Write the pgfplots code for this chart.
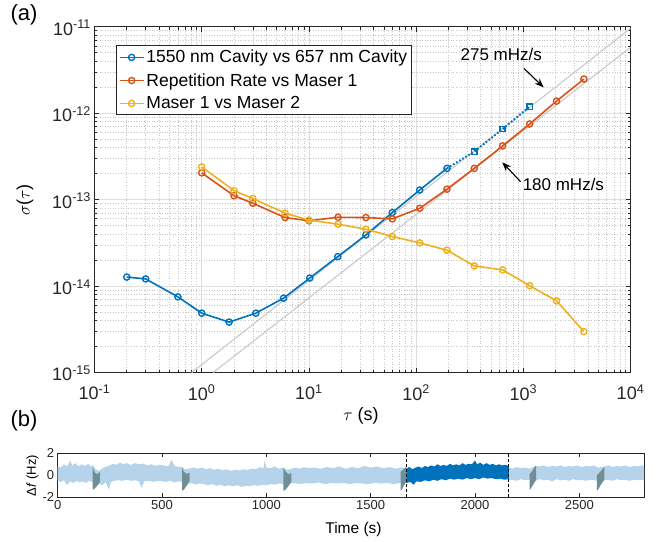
\documentclass[border=0pt]{standalone}
\usepackage{fontspec}
\setmainfont{Liberation Sans}
\usepackage{pgfplots}
\pgfplotsset{compat=1.18}
\usetikzlibrary{arrows.meta}
\definecolor{mblue}{rgb}{0,0.447,0.741}
\definecolor{morange}{rgb}{0.850,0.325,0.098}
\definecolor{myellow}{rgb}{0.929,0.694,0.125}
\definecolor{lblue}{rgb}{0.71,0.83,0.92}
\definecolor{tgray}{rgb}{0.44,0.56,0.58}
\definecolor{axgray}{rgb}{0.15,0.15,0.15}
\definecolor{drift}{rgb}{0.80,0.80,0.80}

\begin{document}
\begin{tikzpicture}
\useasboundingbox (0,0) rectangle (668pt,541pt);
% ---------------- panel (a)
\begin{axis}[
  at={(94.5pt,168.5pt)}, anchor=south west, scale only axis,
  width=536pt, height=345.8pt,
  xmode=log, ymode=log, xmin=0.1, xmax=1e4, ymin=1e-15, ymax=1e-11,
  xtick={0.1,1,10,100,1000,10000},
  xticklabels={10\textsuperscript{-1},10\textsuperscript{0},10\textsuperscript{1},10\textsuperscript{2},10\textsuperscript{3},10\textsuperscript{4}},
  ytick={1e-15,1e-14,1e-13,1e-12,1e-11},
  yticklabels={10\textsuperscript{-15},10\textsuperscript{-14},10\textsuperscript{-13},10\textsuperscript{-12},10\textsuperscript{-11}},
  minor xtick={0.2,0.3,0.4,0.5,0.6,0.7,0.8,0.9,2,3,4,5,6,7,8,9,20,30,40,50,60,70,80,90,200,300,400,500,600,700,800,900,2000,3000,4000,5000,6000,7000,8000,9000},
  minor ytick={2e-15,3e-15,4e-15,5e-15,6e-15,7e-15,8e-15,9e-15,2e-14,3e-14,4e-14,5e-14,6e-14,7e-14,8e-14,9e-14,2e-13,3e-13,4e-13,5e-13,6e-13,7e-13,8e-13,9e-13,2e-12,3e-12,4e-12,5e-12,6e-12,7e-12,8e-12,9e-12},
  tick align=inside, major tick length=5pt, minor tick length=3pt,
  every tick/.style={axgray, line width=0.6pt},
  axis line style={axgray, line width=0.8pt},
  grid=both,
  major grid style={black!13, line width=0.8pt},
  minor grid style={black!22, line width=0.6pt, dotted},
  ticklabel style={font=\fontsize{18}{20}\selectfont, text=black!85},
  xticklabel style={yshift=-9pt},
  yticklabel style={yshift=-1pt},
  legend style={at={(0.04,0.946)}, anchor=north west, draw=axgray, line width=0.8pt,
    fill=white, font=\fontsize{17.5}{19}\selectfont, inner sep=2.5pt, row sep=5pt},
  legend cell align=left,
  legend image code/.code={\draw[mark repeat=2,mark phase=2] plot coordinates {(0pt,0pt) (12pt,0pt) (24pt,0pt)};},
  every axis plot/.append style={line width=1.6pt, mark size=3.1pt, mark options={solid, line width=1.4pt, fill=none}},
]
\addplot[drift, line width=1.2pt, forget plot] coordinates {(0.805,1e-15) (1e4,9.58e-12)};
\addplot[drift, line width=1.2pt, forget plot] coordinates {(1.28,1e-15) (1e4,5.78e-12)};

\addplot[mblue, mark=o] coordinates {
(0.2,1.27e-14) (0.3,1.21e-14) (0.6,7.5e-15) (1,4.86e-15) (1.8,3.83e-15) (3.2,4.86e-15)
(5.8,7.24e-15) (10.2,1.24e-14) (18.6,2.19e-14) (34,3.9e-14) (60,7.08e-14) (108,1.29e-13) (194,2.3e-13)};
\addplot[morange, mark=o] coordinates {
(1,2.04e-13) (2,1.11e-13) (3,9.08e-14) (6,6.2e-14) (10,5.7e-14) (18.7,6.25e-14) (34,6.2e-14)
(60,5.99e-14) (108,7.94e-14) (194,1.32e-13) (349,2.3e-13) (641,4.18e-13) (1146,7.5e-13) (2042,1.38e-12) (3672,2.48e-12)};
\addplot[myellow, mark=o] coordinates {
(1,2.39e-13) (2,1.27e-13) (3,1.03e-13) (6,6.97e-14) (10,5.8e-14) (18.7,5.2e-14) (34,4.55e-14)
(60,3.74e-14) (108,3.16e-14) (194,2.6e-14) (349,1.71e-14) (641,1.54e-14) (1146,1.01e-14) (2042,6.75e-15) (3672,2.98e-15)};
\addplot[mblue, dotted, line width=2pt, forget plot] coordinates {(194,2.3e-13) (349,3.59e-13) (641,6.56e-13) (1146,1.19e-12)};
\addplot[mblue, only marks, mark=square, mark size=2.6pt, forget plot] coordinates {(349,3.59e-13) (641,6.56e-13) (1146,1.19e-12)};
\legend{1550 nm Cavity vs 657 nm Cavity, Repetition Rate vs Maser 1, Maser 1 vs Maser 2}

\node[font=\fontsize{17}{19}\selectfont] at (axis cs:623,4.8e-12) {275 mHz/s};
\draw[line width=1.1pt, -{Stealth[length=9pt,width=7pt]}] (axis cs:1014,3.3e-12) -- (axis cs:1546,1.99e-12);
\node[font=\fontsize{17}{19}\selectfont, anchor=west, inner sep=0pt] at (axis cs:984,1.51e-13) {180 mHz/s};
\draw[line width=1.1pt, -{Stealth[length=9pt,width=7pt]}] (axis cs:944,1.61e-13) -- (axis cs:637,2.7e-13);
\end{axis}

% ---------------- panel (b)
\begin{axis}[
  at={(57.7pt,43.7pt)}, anchor=south west, scale only axis,
  width=586.3pt, height=44pt,
  xmin=0, xmax=2810, ymin=-2, ymax=2,
  xtick={0,500,1000,1500,2000,2500}, ytick={-2,0,2},
  tick align=inside, major tick length=4pt,
  every tick/.style={axgray, line width=0.8pt},
  axis line style={axgray, line width=1pt},
  /pgf/number format/assume math mode=true,
  /pgf/number format/1000 sep={},
  ticklabel style={font=\fontsize{13}{15}\selectfont, text=black!85},
]
% light band (whole record)
\addplot[fill=lblue, draw=none] coordinates {
(0,0.85) (15,0.7) (30,1.0) (45,0.8) (60,1.35) (70,0.9) (85,1.1) (100,0.8) (115,1.0) (130,0.85) (145,1.05) (160,0.8) (170,0.9)
(180,0.6) (195,0.4) (205,0.5) (220,0.7) (235,0.8) (250,0.9) (265,1.05) (280,0.95) (300,1.15) (315,1.0) (330,1.1) (350,0.95)
(370,1.1) (390,1.0) (410,1.05) (430,0.9) (450,1.0) (470,0.85) (490,0.95) (510,0.9) (530,0.8) (546,1.4) (560,0.85) (580,0.75) (595,0.8)
(610,0.55) (630,0.6) (650,0.7) (670,0.6) (690,0.7) (710,0.55) (730,0.65) (750,0.5) (770,0.6) (790,0.45) (810,0.55) (830,0.4)
(850,0.5) (870,0.45) (890,0.55) (910,0.5) (930,0.6) (950,0.55) (970,0.75) (985,0.6) (993,1.4) (1000,0.7) (1020,0.65) (1040,0.8)
(1060,0.6) (1080,0.7) (1100,0.5) (1120,0.6) (1140,0.7) (1160,0.6) (1180,0.75) (1200,0.65) (1230,0.7) (1260,0.6) (1290,0.75)
(1320,0.65) (1350,0.8) (1380,0.6) (1410,0.75) (1440,0.65) (1470,0.85) (1500,0.7) (1530,0.8) (1560,0.65) (1590,0.75) (1620,0.6)
(1645,0.7) (1671,0.6)
(1671,-0.6) (1640,-0.7) (1610,-0.8) (1580,-0.7) (1550,-0.75) (1520,-0.7) (1490,-0.8) (1460,-0.75) (1430,-0.7) (1400,-0.8)
(1370,-0.7) (1340,-0.75) (1310,-0.7) (1280,-0.8) (1250,-0.65) (1220,-0.75) (1190,-0.7) (1160,-0.8) (1130,-0.7) (1100,-0.75)
(1080,-0.8) (1060,-0.75) (1040,-0.85) (1020,-0.8) (1000,-0.9) (980,-0.85) (960,-0.95) (940,-0.9) (920,-1.0) (900,-0.95)
(880,-1.05) (860,-0.9) (840,-1.0) (820,-0.9) (800,-1.0) (780,-0.85) (760,-0.95) (740,-0.8) (720,-0.9) (700,-0.8) (680,-0.75)
(660,-0.85) (640,-0.7) (620,-0.8) (600,-0.6) (580,-0.55) (560,-0.65) (540,-0.5) (520,-0.6) (500,-0.55) (480,-0.5) (460,-0.6)
(440,-0.5) (415,-0.55) (402,-1.15) (390,-0.55) (370,-0.45) (350,-0.5) (330,-0.4) (310,-0.5) (290,-0.45) (270,-0.5) (255,-0.6)
(245,-1.3) (230,-0.6) (215,-0.9) (200,-0.8) (180,-0.7) (165,-0.6) (150,-0.5) (135,-0.7) (120,-0.55) (105,-0.65) (90,-0.5)
(75,-0.7) (60,-0.55) (45,-0.9) (30,-0.45) (15,-0.6) (0,-0.5)} -- cycle;
\addplot[fill=lblue, draw=none] coordinates {
(2162,0.7) (2180,0.6) (2200,0.75) (2220,0.65) (2240,0.7) (2262,0.6) (2290,0.85) (2310,0.8) (2330,0.9) (2350,0.75) (2370,0.85)
(2390,0.8) (2410,0.9) (2430,0.75) (2450,0.85) (2470,0.8) (2490,0.9) (2510,0.75) (2530,0.85) (2550,0.8) (2570,0.9) (2590,0.7)
(2620,0.8) (2640,0.9) (2660,0.75) (2680,0.85) (2700,0.8) (2720,0.9) (2740,0.75) (2760,0.85) (2780,0.8) (2800,0.9) (2810,0.8)
(2810,-0.5) (2800,-0.4) (2780,-0.45) (2760,-0.4) (2740,-0.5) (2720,-0.4) (2700,-0.45) (2680,-0.35) (2660,-0.5) (2640,-0.4)
(2620,-0.45) (2590,-0.5) (2570,-0.45) (2550,-0.4) (2530,-0.5) (2510,-0.4) (2490,-0.45) (2470,-0.35) (2450,-0.5) (2430,-0.4)
(2410,-0.45) (2390,-0.35) (2370,-0.55) (2350,-0.4) (2330,-0.45) (2310,-0.35) (2290,-0.5) (2262,-0.4) (2240,-0.45) (2220,-0.35)
(2200,-0.5) (2180,-0.4) (2162,-0.45)} -- cycle;
% selected data segment
\addplot[fill=mblue, draw=none] coordinates {
(1671,0.6) (1685,0.75) (1700,0.55) (1715,0.7) (1730,0.8) (1745,0.65) (1760,0.85) (1775,0.75) (1790,0.9) (1805,0.8) (1820,1.0)
(1835,0.85) (1850,0.95) (1865,0.85) (1880,1.05) (1895,0.9) (1910,1.0) (1925,0.9) (1940,1.1) (1955,0.95) (1970,1.05) (1985,1.0)
(2000,1.35) (2010,1.0) (2025,1.15) (2040,0.95) (2055,1.1) (2070,0.95) (2085,1.05) (2100,0.9) (2115,1.0) (2130,0.9) (2145,0.95) (2162,0.85)
(2162,-0.35) (2140,-0.4) (2120,-0.3) (2100,-0.35) (2080,-0.25) (2060,-0.3) (2040,-0.2) (2020,-0.35) (2000,-0.25) (1980,-0.35)
(1960,-0.25) (1940,-0.4) (1920,-0.3) (1900,-0.4) (1880,-0.3) (1860,-0.45) (1840,-0.35) (1820,-0.5) (1800,-0.4) (1780,-0.55)
(1760,-0.45) (1740,-0.6) (1720,-0.55) (1705,-0.85) (1690,-0.6) (1671,-0.7)} -- cycle;
% transients
\addplot[fill=tgray, draw=none] coordinates {(167,0.8) (172,0.5) (180,0.2) (190,0.1) (202,0.3) (202,-0.6) (192,-0.9) (180,-1.15) (172,-1.3) (167,-1.2)} -- cycle;
\addplot[fill=tgray, draw=none] coordinates {(596,0.7) (602,0.4) (615,0.15) (632,0.2) (632,-0.5) (620,-0.9) (605,-1.3) (596,-1.4)} -- cycle;
\addplot[fill=tgray, draw=none] coordinates {(1082,0.7) (1090,0.4) (1105,0.1) (1120,0.2) (1120,-0.6) (1105,-1.0) (1090,-1.35) (1082,-1.4)} -- cycle;
\addplot[fill=tgray, draw=none] coordinates {(1643,0.3) (1655,0.5) (1671,0.8) (1671,-0.6) (1660,-0.9) (1650,-1.3) (1643,-1.4)} -- cycle;
\addplot[fill=tgray, draw=none] coordinates {(2262,0.1) (2275,0.4) (2290,0.85) (2293,0.8) (2293,-0.4) (2280,-0.8) (2268,-1.2) (2262,-1.3)} -- cycle;
\addplot[fill=tgray, draw=none] coordinates {(2584,0.0) (2600,0.3) (2618,0.75) (2620,0.7) (2620,-0.4) (2605,-0.8) (2590,-1.3) (2584,-1.4)} -- cycle;
% segment boundaries
\addplot[black, densely dashed, line width=1.1pt] coordinates {(1671,-2) (1671,2)};
\addplot[black, densely dashed, line width=1.1pt] coordinates {(2162,-2) (2162,2)};
\end{axis}

% labels
\node[font=\fontsize{22}{24}\selectfont] at (24pt,526pt) {(a)};
\node[font=\fontsize{22}{24}\selectfont] at (24pt,120pt) {(b)};
\node[font=\fontsize{18}{20}\selectfont, rotate=90] at (25pt,341pt) {$\sigma$($\tau$)};
\node[font=\fontsize{18}{20}\selectfont] at (361pt,125pt) {$\tau$ (s)};
\node[font=\fontsize{13}{15}\selectfont, rotate=90] at (32.5pt,65.2pt) {Δ\textit{f} (Hz)};
\node[font=\fontsize{15.5}{17}\selectfont] at (353.5pt,12pt) {Time (s)};
\end{tikzpicture}
\end{document}
